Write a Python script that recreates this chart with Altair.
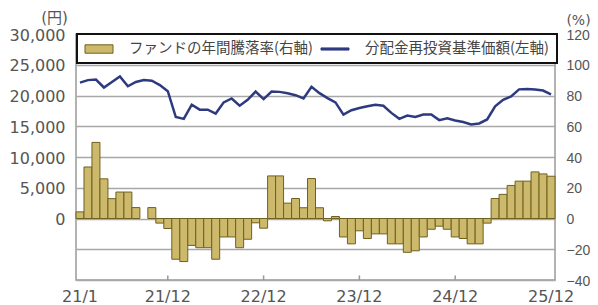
import altair as alt
import pandas as pd

months = [f"{y}/{m}" for y in range(21, 26) for m in range(1, 13)]
tick_labels = ["21/1", "21/12", "22/12", "23/12", "24/12", "25/12"]
inner_ticks = ["21/12", "22/12", "23/12", "24/12"]

# annual return of the fund (%), right axis
returns = [4.3, 33.5, 49.5, 25.8, 12.9, 17.2, 17.2, 7.1, None, 7.1,
           -3.0, -6.5, -26.5, -28.0, -17.5, -19.0, -19.0, -26.5, -12.0, -12.0,
           -19.0, -13.5, -2.8, -6.3, 27.7, 27.7, 10.0, 13.0, 7.0, 26.0,
           7.0, -1.5, 1.3, -12.0, -16.5, -8.0, -13.0, -10.0, -10.0, -16.5,
           -16.5, -22.0, -21.0, -12.0, -7.0, -5.0, -7.0, -12.0, -13.0, -16.5,
           -16.5, -3.0, 13.0, 15.7, 21.5, 24.3, 24.3, 30.3, 29.0, 27.5]

# NAV with dividends reinvested (yen), left axis
nav = [22100, 22500, 22600, 21300, 22200, 23100, 21500, 22200, 22500, 22400,
       21700, 20700, 16500, 16200, 18500, 17700, 17700, 17060, 18880, 19520,
       18340, 19300, 20640, 19410, 20640, 20590, 20370, 20050, 19520, 21400,
       20380, 19570, 18880, 16900, 17600, 17970, 18240, 18500, 18340, 17170,
       16200, 16750, 16500, 16900, 16900, 16000, 16300, 15950, 15700, 15300,
       15450, 16100, 18240, 19300, 19840, 21000, 21070, 20960, 20800, 20200]

series = ["ファンドの年間騰落率(右軸)", "分配金再投資基準価額(左軸)"]

BAR_FILL = "#ccb96c"
BAR_STROKE = "#6e6020"
LINE_COLOR = "#2e3a80"
TEXT = "#555555"
GRID = "#a8a8a8"
NUM_FONT = "DejaVu Sans"

df = pd.DataFrame({"month": months, "ret": returns, "nav": nav})
df_ticks = pd.DataFrame({"month": inner_ticks, "y0": -40, "y1": -37})
df_legend = pd.DataFrame({"series": series})

x_scale = alt.Scale(domain=months, paddingInner=0, paddingOuter=0)
x_axis = alt.Axis(values=tick_labels, title=None, labelAngle=0, ticks=False,
                  domain=False, grid=False, labelFontSize=16, labelPadding=8,
                  labelColor=TEXT, labelFont=NUM_FONT, labelOverlap=False)

legend = alt.Legend(
    title=None, orient="none", legendX=1, legendY=0, direction="horizontal",
    symbolSize=196, symbolOpacity=1, symbolStrokeWidth=1, symbolOffset=7,
    labelFont="Noto Sans CJK JP", labelFontSize=14.5, labelLimit=400,
    labelColor="#444444", labelOffset=22.5, columnPadding=5, padding=7.5,
    strokeColor="#111111", fillColor="white",
)

bar_y_scale = alt.Scale(domain=[-40, 120], nice=False, zero=False)
bar_y_axis = alt.Axis(orient="right", values=list(range(-40, 121, 20)),
                      title="(%)", titleAngle=0, titleX=23, titleY=-14,
                      titleAlign="center", titleBaseline="middle",
                      titleFontSize=14, titleFontWeight="normal", titleColor=TEXT,
                      titleFont=NUM_FONT,
                      ticks=False, domain=False, grid=True, gridColor=GRID,
                      gridWidth=1.3, labelFontSize=14, labelColor=TEXT,
                      labelPadding=11, labelFont="Liberation Sans",
                      labelOverlap=False, labelOffset=1)

bars = alt.Chart(df).mark_bar(fill=BAR_FILL, stroke=BAR_STROKE, strokeWidth=1).encode(
    x=alt.X("month:O", scale=x_scale, axis=x_axis),
    y=alt.Y("ret:Q", scale=bar_y_scale, axis=bar_y_axis),
)

ticks = alt.Chart(df_ticks).mark_rule(color="#999999", strokeWidth=1.5).encode(
    x=alt.X("month:O", scale=x_scale, axis=x_axis),
    y=alt.Y("y0:Q", scale=bar_y_scale, axis=bar_y_axis),
    y2="y1:Q",
)

line = alt.Chart(df).mark_line(strokeWidth=2.5, color=LINE_COLOR).encode(
    x=alt.X("month:O", scale=x_scale, axis=x_axis),
    y=alt.Y("nav:Q", scale=alt.Scale(domain=[-10000, 30000], nice=False, zero=False),
            axis=alt.Axis(orient="left", values=list(range(0, 30001, 5000)),
                          labelExpr="format(datum.value, ',')",
                          title="(円)", titleAngle=0, titleX=-22,
                          titleY=-17, titleAlign="center", titleBaseline="middle",
                          titleFontSize=15, titleFontWeight="normal", titleColor=TEXT,
                          titleFont="DejaVu Sans, Noto Sans CJK JP",
                          ticks=False, domain=False, grid=False, labelFontSize=16,
                          labelColor=TEXT, labelPadding=11, labelFont=NUM_FONT,
                          labelOverlap=False, labelOffset=1)),
)

# invisible layer that only provides the combined legend
legend_layer = alt.Chart(df_legend).mark_point(filled=True, opacity=0, size=196).encode(
    fill=alt.Fill("series:N", scale=alt.Scale(domain=series, range=[BAR_FILL, LINE_COLOR]),
                  legend=legend),
    stroke=alt.Stroke("series:N", scale=alt.Scale(domain=series, range=[BAR_STROKE, LINE_COLOR]),
                      legend=legend),
    shape=alt.Shape("series:N", scale=alt.Scale(domain=series,
                    range=["M-2,-0.6H2V0.6H-2Z", "M-2,-0.15H2V0.15H-2Z"]),
                    legend=legend),
)

chart = alt.layer(alt.layer(bars, ticks), line, legend_layer).resolve_scale(
    y="independent"
).properties(
    width=479, height=246,
    autosize=alt.AutoSizeParams(type="none"),
    padding={"left": 68, "top": 26, "right": 35, "bottom": 25},
).configure_view(
    stroke="#999999", strokeWidth=1.5
).configure_legend(
    strokeWidth=2
)

chart.save("out.html", embed_options={"renderer": "svg", "actions": False})
